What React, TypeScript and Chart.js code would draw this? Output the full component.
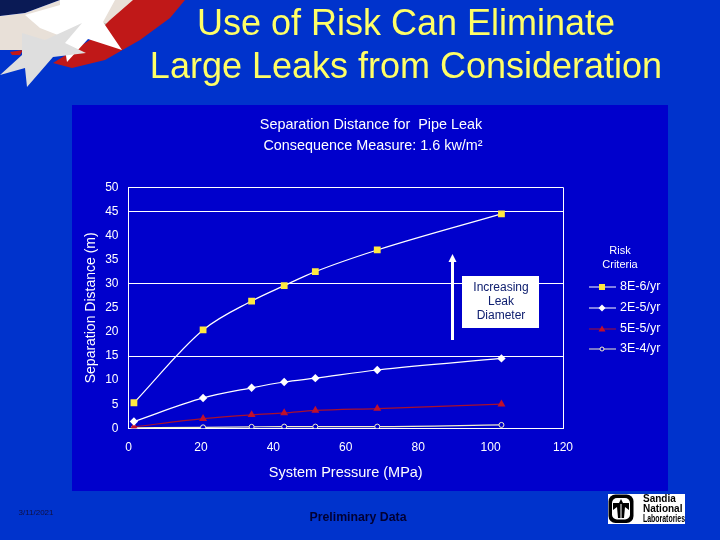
import React, { useEffect, useRef } from "react";
import { Chart, registerables } from "chart.js";

Chart.register(...registerables);

const pressure = [1.5, 20.6, 34, 43, 51.6, 68.7, 103];
const risk8e6 = [5.3, 20.4, 26.4, 29.6, 32.5, 37, 44.5];
const risk2e5 = [1.4, 6.3, 8.4, 9.6, 10.4, 12.1, 14.5];
const risk5e5 = [0.3, 2, 2.8, 3.2, 3.7, 4.1, 5];
const risk3e4 = [0.1, 0.2, 0.3, 0.35, 0.35, 0.35, 0.7];
const seriesNames = ["8E-6/yr", "2E-5/yr", "5E-5/yr", "3E-4/yr"];
const slideTitle = ["Use of Risk Can Eliminate", "Large Leaks from Consideration"];
const chartHeading = ["Separation Distance for  Pipe Leak", "Consequence Measure: 1.6 kw/m²"];
const legendTitle = ["Risk", "Criteria"];
const noteLines = ["Increasing", "Leak", "Diameter"];
const logoLines = ["Sandia", "National", "Laboratories"];

const FONT = '"Liberation Sans", Arial, sans-serif';
const SLIDE = "#0033CC";
const PANEL = "#0000CC";
const LINE_RED = "#A8102C";

function poly(ctx: CanvasRenderingContext2D, pts: number[][], fill: string) {
  ctx.fillStyle = fill;
  ctx.beginPath();
  pts.forEach(([x, y], i) => (i ? ctx.lineTo(x, y) : ctx.moveTo(x, y)));
  ctx.closePath();
  ctx.fill();
}

function text(
  ctx: CanvasRenderingContext2D,
  s: string,
  x: number,
  y: number,
  font: string,
  color: string,
  align: CanvasTextAlign = "center",
  maxWidth?: number
) {
  ctx.font = font;
  ctx.fillStyle = color;
  ctx.textAlign = align;
  ctx.textBaseline = "middle";
  if (maxWidth) ctx.fillText(s, x, y, maxWidth);
  else ctx.fillText(s, x, y);
}

const backdrop = {
  id: "backdrop",
  beforeDraw(chart: Chart) {
    const ctx = chart.ctx;
    ctx.save();
    ctx.fillStyle = SLIDE;
    ctx.fillRect(0, 0, 720, 540);
    ctx.fillStyle = PANEL;
    ctx.fillRect(72, 105, 596, 386);

    // flag swoosh, top-left corner
    poly(ctx, [[0, 0], [60, 0], [25, 13], [0, 16]], "#0A1A55");
    poly(ctx, [[0, 16], [25, 13], [60, 0], [135, 0], [110, 30], [70, 46], [30, 50], [0, 50]], "#E8E0D8");
    poly(ctx, [[80, 20], [120, 25], [100, 37], [60, 36]], "#C4BCB4");
    poly(ctx, [[133, 0], [185, 0], [170, 18], [140, 40], [105, 60], [72, 68], [53, 63], [90, 40], [110, 20]], "#C01818");
    poly(ctx, [[10, 52], [23, 50], [20, 55], [12, 55]], "#C01818");
    poly(ctx, [[25, 15], [60, 5], [60, 0], [115, 0], [103, 22], [122, 50], [88, 39], [67, 62], [63, 37], [40, 28]], "#FFFFFF");
    poly(ctx, [[82, 23], [65, 43], [86, 53], [53, 57], [27, 87], [25, 68], [0, 75], [22, 55], [22, 33], [45, 40]], "#DEDEDE");

    // slide title
    text(ctx, slideTitle[0], 406, 25, `36px ${FONT}`, "#FFFF66");
    text(ctx, slideTitle[1], 406, 68, `36px ${FONT}`, "#FFFF66");
    ctx.restore();
  },
  afterDraw(chart: Chart) {
    const ctx = chart.ctx;
    ctx.save();
    const white = "#FFFFFF";
    text(ctx, chartHeading[0], 371, 125, `14.4px ${FONT}`, white);
    text(ctx, chartHeading[1], 373, 146, `14.4px ${FONT}`, white);

    // arrow
    ctx.strokeStyle = white;
    ctx.lineWidth = 3;
    ctx.beginPath();
    ctx.moveTo(452.5, 340);
    ctx.lineTo(452.5, 260);
    ctx.stroke();
    poly(ctx, [[452.5, 254], [456.5, 262], [448.5, 262]], white);

    // note box
    ctx.fillStyle = white;
    ctx.fillRect(462, 276, 77, 52);
    noteLines.forEach((s, i) => text(ctx, s, 501, 288 + i * 14, `12px ${FONT}`, "#102070"));

    // legend
    legendTitle.forEach((s, i) => text(ctx, s, 620, 251 + i * 14, `11px ${FONT}`, white));
    const rows = [287, 308, 329, 349];
    seriesNames.forEach((name, i) => {
      const ds = chart.data.datasets[i] as any;
      const y = rows[i];
      ctx.strokeStyle = ds.borderColor;
      ctx.lineWidth = 1;
      ctx.beginPath();
      ctx.moveTo(589, y);
      ctx.lineTo(616, y);
      ctx.stroke();
      ctx.fillStyle = ds.pointBackgroundColor;
      ctx.strokeStyle = ds.pointBorderColor;
      if (i === 0) {
        ctx.fillRect(599, y - 3, 6, 6);
      } else if (i === 1) {
        poly(ctx, [[602, y - 3.5], [605.5, y], [602, y + 3.5], [598.5, y]], ds.pointBackgroundColor);
      } else if (i === 2) {
        poly(ctx, [[602, y - 3.5], [605.5, y + 2.5], [598.5, y + 2.5]], ds.pointBackgroundColor);
      } else {
        ctx.beginPath();
        ctx.arc(602, y, 2, 0, Math.PI * 2);
        ctx.fill();
        ctx.stroke();
      }
      text(ctx, name, 620, y, `12.5px ${FONT}`, white, "left");
    });

    // footer
    text(ctx, "3/11/2021", 36, 513, `8px ${FONT}`, "#101040");
    text(ctx, "Preliminary Data", 358, 518, `bold 12.3px ${FONT}`, "#000033");

    // logo
    ctx.fillStyle = white;
    ctx.fillRect(608, 494, 77, 30);
    ctx.fillStyle = "#000000";
    ctx.beginPath();
    ctx.roundRect(608.5, 494.5, 25, 28.5, 7);
    ctx.fill();
    ctx.fillStyle = white;
    ctx.beginPath();
    ctx.roundRect(612, 498, 18, 21.5, 5);
    ctx.fill();
    poly(ctx, [[621, 499], [623, 503], [629, 503], [629, 510], [625, 507], [624, 518], [618, 518], [617, 507], [613, 510], [613, 503], [619, 503]], "#000000");
    ctx.fillStyle = white;
    ctx.fillRect(620.5, 504, 1, 14);
    logoLines.forEach((s, i) => text(ctx, s, 643, 499.5 + i * 10, `bold 10px ${FONT}`, "#000000", "left", 42));
    ctx.restore();
  },
};

export default function App() {
  const ref = useRef<HTMLCanvasElement>(null);
  useEffect(() => {
    const toXY = (vals: number[]) => vals.map((y, i) => ({ x: pressure[i], y }));
    const chart = new Chart(ref.current!, {
      type: "line",
      data: {
        datasets: [
          {
            label: seriesNames[0],
            data: toXY(risk8e6),
            borderColor: "#FFFFFF",
            borderWidth: 1.2,
            cubicInterpolationMode: "monotone",
            pointStyle: "rect",
            pointRadius: 4.8,
            pointBackgroundColor: "#FFE840",
            pointBorderColor: "#FFE840",
            pointBorderWidth: 0,
          },
          {
            label: seriesNames[1],
            data: toXY(risk2e5),
            borderColor: "#FFFFFF",
            borderWidth: 1.2,
            cubicInterpolationMode: "monotone",
            pointStyle: "rectRot",
            pointRadius: 4.2,
            pointBackgroundColor: "#FFFFFF",
            pointBorderColor: "#FFFFFF",
            pointBorderWidth: 0,
          },
          {
            label: seriesNames[2],
            data: toXY(risk5e5),
            borderColor: LINE_RED,
            borderWidth: 1.2,
            cubicInterpolationMode: "monotone",
            pointStyle: "triangle",
            pointRadius: 4.6,
            pointBackgroundColor: "#C0102C",
            pointBorderColor: "#C0102C",
            pointBorderWidth: 0,
          },
          {
            label: seriesNames[3],
            data: toXY(risk3e4),
            borderColor: "#F4F0C8",
            borderWidth: 1.2,
            cubicInterpolationMode: "monotone",
            pointStyle: "circle",
            pointRadius: 2.5,
            pointBackgroundColor: PANEL,
            pointBorderColor: "#F4F0C8",
            pointBorderWidth: 1,
          },
        ],
      },
      options: {
        animation: false,
        responsive: false,
        devicePixelRatio: 1,
        layout: { padding: { left: 83, right: 157, top: 187.3, bottom: 58 } },
        plugins: { legend: { display: false }, title: { display: false }, tooltip: { enabled: false } },
        scales: {
          x: {
            type: "linear",
            min: 0,
            max: 120,
            afterFit: (s: any) => {
              s.height = 53.7;
            },
            border: { color: "#FFFFFF", width: 1 },
            grid: {
              drawTicks: false,
              lineWidth: 1,
              color: (c: any) => (c.tick.value === 120 ? "#FFFFFF" : "rgba(0,0,0,0)"),
            },
            ticks: { stepSize: 20, color: "#FFFFFF", padding: 12, maxRotation: 0, font: { family: FONT, size: 12 } },
            title: {
              display: true,
              text: "System Pressure (MPa)",
              color: "#FFFFFF",
              padding: 0,
              font: { family: FONT, size: 14.5 },
            },
          },
          y: {
            min: 0,
            max: 50,
            afterFit: (s: any) => {
              s.width = 45.5;
            },
            border: { color: "#FFFFFF", width: 1 },
            grid: {
              drawTicks: false,
              lineWidth: 1,
              color: (c: any) =>
                c.tick.value === 15 || c.tick.value === 30 || c.tick.value === 45 || c.tick.value === 50
                  ? "#FFFFFF"
                  : "rgba(0,0,0,0)",
            },
            ticks: { stepSize: 5, color: "#FFFFFF", padding: 10, font: { family: FONT, size: 12 } },
            title: {
              display: true,
              text: "Separation Distance (m)",
              color: "#FFFFFF",
              padding: 0,
              font: { family: FONT, size: 14 },
            },
          },
        },
      },
      plugins: [backdrop],
    } as any);
    return () => chart.destroy();
  }, []);
  return (
    <div style={{ position: "fixed", left: 0, top: 0, width: 720, height: 540 }}>
      <canvas ref={ref} width={720} height={540} style={{ display: "block" }} />
    </div>
  );
}
